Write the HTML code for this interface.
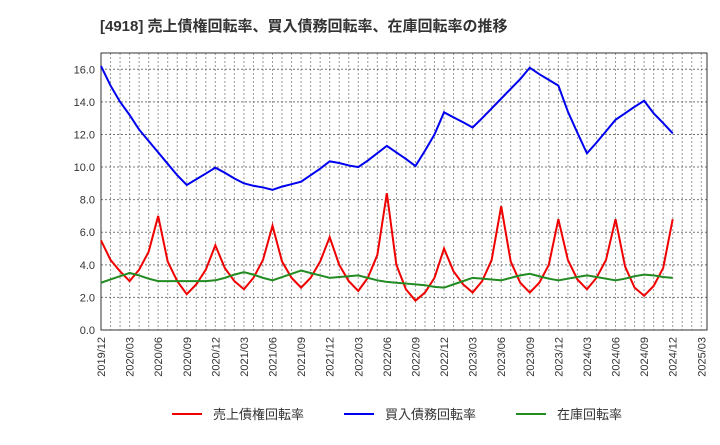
<!DOCTYPE html>
<html><head><meta charset="utf-8"><style>
body{margin:0;background:#fff;}
svg text{font-family:"Liberation Sans","Noto Sans CJK JP",sans-serif;}
</style></head><body>
<svg id="c" width="720" height="440" xmlns="http://www.w3.org/2000/svg">
<text x="100" y="31" font-size="15" font-weight="bold" fill="#333">[4918]  売上債権回転率、買入債務回転率、在庫回転率の推移</text>
<g id="grid"></g>
<g id="axes"></g>
<g id="series"></g>
<g id="legend"></g>
</svg>
<script>
const startYear=2019, startMonth=12;
const yTicks=[0,2,4,6,8,10,12,14,16];
const receivables=[5.5,4.3,3.6,3.0,3.7,4.8,7.0,4.2,3.0,2.2,2.8,3.7,5.2,3.8,3.0,2.5,3.2,4.3,6.4,4.2,3.2,2.6,3.2,4.2,5.7,4.0,3.0,2.4,3.2,4.6,8.4,4.0,2.5,1.8,2.3,3.2,5.0,3.6,2.8,2.3,3.0,4.3,7.6,4.2,2.9,2.3,2.9,4.0,6.8,4.3,3.1,2.5,3.2,4.3,6.8,3.9,2.6,2.1,2.7,3.8,6.8];
const payables=[16.2,15.0,14.0,13.2,12.3,11.6,10.9,10.2,9.5,8.9,9.25,9.6,9.96,9.65,9.3,9.0,8.85,8.75,8.6,8.8,8.95,9.1,9.5,9.9,10.35,10.25,10.1,10.0,10.4,10.85,11.3,10.9,10.5,10.06,11.0,12.0,13.36,13.05,12.75,12.43,13.0,13.6,14.2,14.8,15.4,16.1,15.7,15.35,15.0,13.4,12.1,10.84,11.5,12.2,12.9,13.3,13.7,14.07,13.3,12.7,12.07];
const inventory=[2.9,3.1,3.3,3.5,3.35,3.15,3.0,3.0,3.0,3.0,3.0,3.0,3.05,3.2,3.4,3.55,3.4,3.2,3.05,3.25,3.45,3.65,3.5,3.35,3.2,3.25,3.3,3.35,3.2,3.05,2.95,2.9,2.85,2.8,2.75,2.65,2.6,2.8,3.0,3.2,3.15,3.1,3.05,3.2,3.35,3.45,3.3,3.15,3.05,3.15,3.25,3.35,3.25,3.15,3.05,3.15,3.3,3.4,3.35,3.25,3.2];
const seriesNames=["売上債権回転率","買入債務回転率","在庫回転率"];
const colors=["#f00000","#0000f0","#228b22"];
const L=101,R=707,T=53,B=330,yMax=17;
const nMonths=63.6;
const xs=i=>L+(R-L)*i/nMonths;
const ys=v=>B-(B-T)*v/yMax;
const NS="http://www.w3.org/2000/svg";
function mk(tag,attrs,parent){const e=document.createElementNS(NS,tag);for(const k in attrs)e.setAttribute(k,attrs[k]);parent.appendChild(e);return e;}
const grid=document.getElementById('grid'),axes=document.getElementById('axes'),ser=document.getElementById('series'),leg=document.getElementById('legend');
for(let i=1;i<nMonths;i++){const l=mk('line',{x1:xs(i),x2:xs(i),y1:T,y2:B,stroke:'#999','stroke-width':1,'stroke-dasharray':'2,2'},grid);

}
yTicks.forEach(v=>{const l=mk('line',{x1:L,x2:R,y1:ys(v),y2:ys(v),stroke:'#777','stroke-width':1,'stroke-dasharray':'2,2'},grid);


const t=mk('text',{x:L-6,y:ys(v)+4,'text-anchor':'end','font-size':11,fill:'#333'},axes);t.textContent=v.toFixed(1);

});
const fr=mk('rect',{x:L,y:T,width:R-L,height:B-T,fill:'none',stroke:'#333','stroke-width':1},axes);


for(let i=0;i<=63;i+=3){let m=startMonth-1+i;const y=startYear+Math.floor(m/12);const mm=(m%12)+1;
const x=xs(i);const t=mk('text',{x:0,y:0,'text-anchor':'end','font-size':11,fill:'#333',transform:`translate(${x+4},${B+7}) rotate(-90)`},axes);
t.textContent=y+'/'+String(mm).padStart(2,'0');

}
[receivables,payables,inventory].forEach((d,k)=>{const p=mk('polyline',{points:d.map((v,i)=>xs(i)+','+ys(v)).join(' '),fill:'none',stroke:colors[k],'stroke-width':2,'stroke-linejoin':'miter'},ser);

});
const lx=[172,344,516];
seriesNames.forEach((n,k)=>{const g=mk('g',{},leg);


mk('line',{x1:lx[k],x2:lx[k]+30,y1:414,y2:414,stroke:colors[k],'stroke-width':2},g);
const t=mk('text',{x:lx[k]+41,y:419,'font-size':13,fill:'#333'},g);t.textContent=n;});
</script>
</body></html>
